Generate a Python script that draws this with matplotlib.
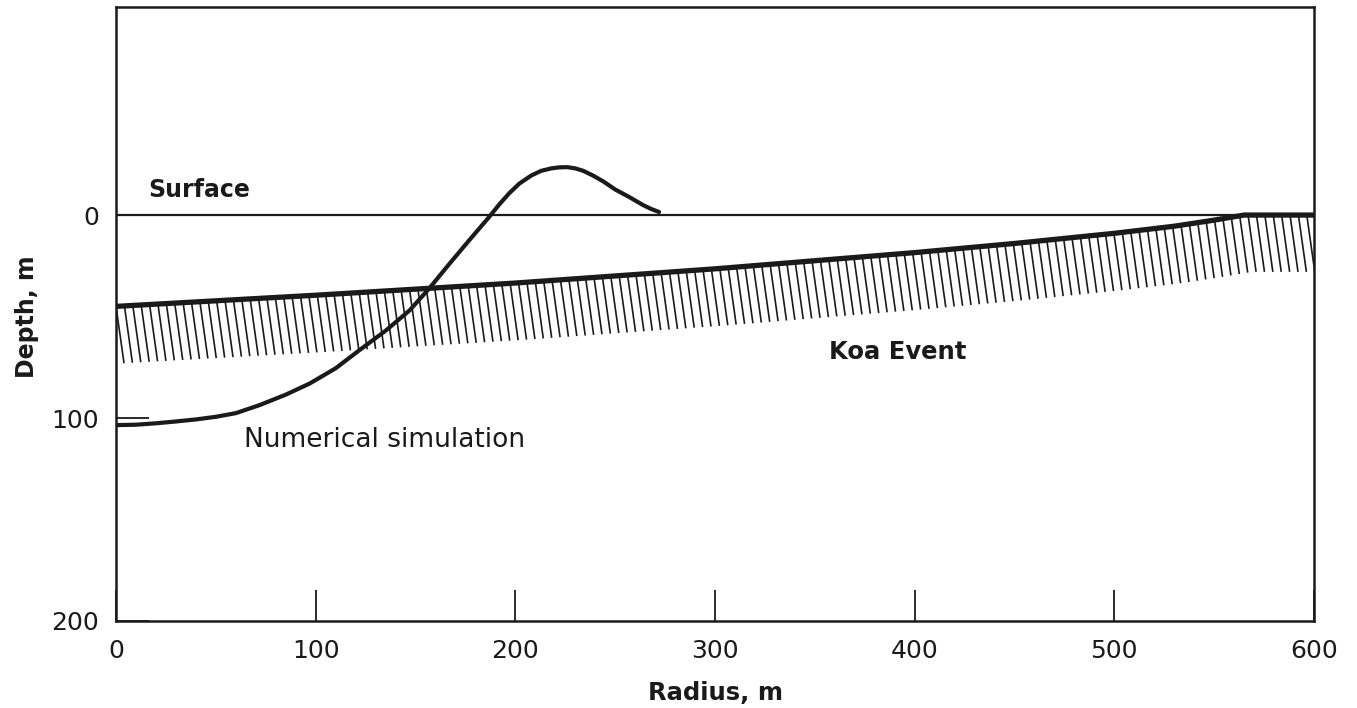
import numpy as np
import matplotlib
matplotlib.use("Agg")
import matplotlib.pyplot as plt
from matplotlib.collections import LineCollection

plt.rcParams['font.family'] = ['DejaVu Sans']

# Koa Event crater profile (radius m, depth m)
koa_r = [0, 100, 200, 300, 400, 450, 500, 530, 550, 565, 600]
koa_d = [45, 39.5, 33.5, 26.5, 18.5, 14, 9, 5.5, 2.5, 0, 0]

# Numerical simulation profile
sim_r = [0, 10, 20, 30, 40, 50, 60, 72, 85, 97, 110, 122, 135, 147, 157, 167,
         177, 187, 192, 197, 202, 208, 213, 218, 222, 226, 230, 234, 239, 244,
         250, 257, 264, 268, 272]
sim_d = [103.5, 103.3, 102.6, 101.7, 100.7, 99.4, 97.6, 93.6, 88.5, 83, 75.5,
         66.5, 57, 47, 36, 24, 12.3, 0.8, -5.3, -10.8, -15.5, -19.5, -21.8, -23,
         -23.5, -23.6, -23, -21.8, -19.4, -16.6, -12.6, -8.9, -4.9, -3, -1.5]

surface_r = [0, 600]
surface_d = [0, 0]

xticks = [0, 100, 200, 300, 400, 500, 600]
yticks = [0, 100, 200]

fig = plt.figure(figsize=(13.57, 7.08), dpi=100)
ax = fig.add_axes([0.0855, 0.1229, 0.8828, 0.8672])
ax.set_xlim(0, 600)
ax.set_ylim(200, -102.5)

ink = '#1a1a1a'

# surface line
ax.plot(surface_r, surface_d, color=ink, lw=1.6, solid_capstyle='butt')

# hatch under Koa profile
hatch_len = 28
hatch_dx = 4
starts = np.arange(0, 604, 4.2)
tops = np.interp(starts, koa_r, koa_d)
segs = [[(s, t), (s + hatch_dx, t + hatch_len)] for s, t in zip(starts, tops)]
ax.add_collection(LineCollection(segs, colors=ink, linewidths=1.2))

# Koa profile
ax.plot(koa_r, koa_d, color=ink, lw=3.8, solid_capstyle='butt')

# simulation
ax.plot(sim_r, sim_d, color=ink, lw=3.0, solid_capstyle='round',
        solid_joinstyle='round')

ax.text(16, -12.3, 'Surface', fontsize=17, fontweight='bold', color=ink,
        ha='left', va='center')
ax.text(357, 67.5, 'Koa Event', fontsize=17.5, fontweight='bold', color=ink,
        ha='left', va='center')
ax.text(64, 111, 'Numerical simulation', fontsize=19, color=ink,
        ha='left', va='center')

ax.set_xticks(xticks)
ax.set_xticklabels([str(v) for v in xticks])
ax.set_yticks(yticks)
ax.set_yticklabels([str(v) for v in yticks])
ax.tick_params(axis='x', direction='in', length=22, width=1.3, colors=ink,
               labelsize=18, pad=13)
ax.tick_params(axis='y', direction='in', length=24, width=1.3, colors=ink,
               labelsize=18, pad=12)
for s in ax.spines.values():
    s.set_linewidth(1.8)
    s.set_color(ink)

ax.set_xlabel('Radius, m', fontsize=17.5, fontweight='bold', color=ink)
ax.set_ylabel('Depth, m', fontsize=17, fontweight='bold', color=ink)
ax.xaxis.set_label_coords(0.5, -0.097)
ax.yaxis.set_label_coords(-0.064, 0.495)

fig.savefig('out.png', dpi=100)
